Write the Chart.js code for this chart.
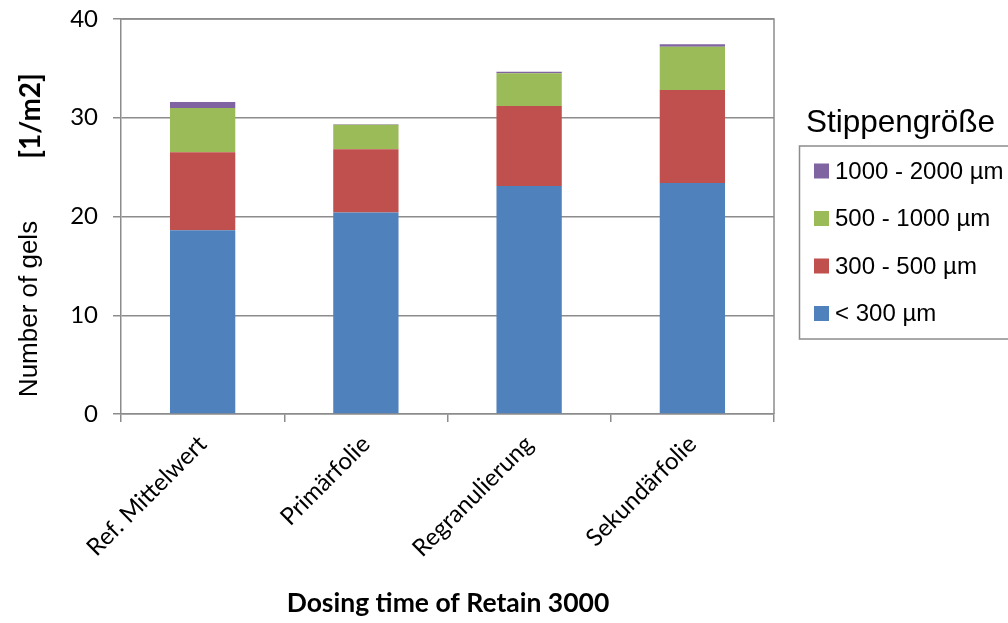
<!DOCTYPE html>
<html>
<head>
<meta charset="utf-8">
<script src="https://cdn.jsdelivr.net/npm/chart.js@4.4.1/dist/chart.umd.min.js"></script>
<style>
  html, body { margin: 0; padding: 0; background: #ffffff; }
  #wrap { width: 1008px; height: 623px; position: relative; }
</style>
</head>
<body>
<div id="wrap"><canvas id="c" width="1008" height="623"></canvas></div>
<script>
// Categories (dosing time of Retain 3000)
const categories = ['Ref. Mittelwert', 'Primärfolie', 'Regranulierung', 'Sekundärfolie'];

// Gel counts per size class [1/m2]
const under300   = [18.6, 20.4, 23.1, 23.4];
const from300    = [7.9, 6.4, 8.1, 9.4];
const from500    = [4.5, 2.5, 3.3, 4.4];
const from1000   = [0.6, 0.05, 0.15, 0.25];

const seriesLabels = ['< 300 µm', '300 - 500 µm', '500 - 1000 µm', '1000 - 2000 µm'];
const seriesColors = ['#4F81BD', '#C0504D', '#9BBB59', '#8064A2'];

const yTicks = [0, 10, 20, 30, 40];
const legendTitle = 'Stippengröße';
const yTitle = 'Number of gels';
const yUnit = '[1/m2]';
const xTitle = 'Dosing time of Retain 3000';

const axisGrey = '#8c8c8c';
const tickFont = { family: 'Lato', size: 24 };

// Frame around the plot area, axis titles and the boxed legend
const decorations = {
  id: 'decorations',
  afterDraw(chart) {
    const ctx = chart.ctx;
    const a = chart.chartArea;
    ctx.save();
    // plot frame (top and right edges)
    ctx.strokeStyle = axisGrey;
    ctx.lineWidth = 1.5;
    ctx.beginPath();
    ctx.moveTo(a.left, a.top);
    ctx.lineTo(a.right, a.top);
    ctx.lineTo(a.right, a.bottom);
    ctx.stroke();

    // y axis titles
    ctx.fillStyle = '#000';
    ctx.textAlign = 'center';
    ctx.textBaseline = 'middle';
    ctx.save();
    ctx.translate(30, 309);
    ctx.rotate(-Math.PI / 2);
    ctx.font = '26px "Liberation Sans"';
    ctx.fillText(yTitle, 0, 0);
    ctx.restore();
    ctx.save();
    ctx.translate(31, 116);
    ctx.rotate(-Math.PI / 2);
    ctx.font = 'bold 28px Lato';
    ctx.fillText(yUnit, 0, 0);
    ctx.restore();

    // x axis title
    ctx.font = 'bold 26.5px Lato';
    ctx.fillText(xTitle, 448, 603);

    // legend
    ctx.textAlign = 'left';
    ctx.textBaseline = 'alphabetic';
    ctx.font = '31.5px "Liberation Sans"';
    ctx.fillText(legendTitle, 806, 132);
    ctx.strokeStyle = axisGrey;
    ctx.lineWidth = 1.5;
    ctx.strokeRect(799.5, 146, 230, 193);
    ctx.font = '24px "Liberation Sans"';
    const ds = chart.data.datasets;
    for (let i = 0; i < ds.length; i++) {
      const d = ds[ds.length - 1 - i];
      const base = 178.5 + i * 47.5;
      ctx.fillStyle = d.backgroundColor;
      ctx.fillRect(814, base - 15, 15, 15);
      ctx.fillStyle = '#000';
      ctx.fillText(d.label, 835, base);
    }
    ctx.restore();
  }
};

const datasetValues = [under300, from300, from500, from1000];

new Chart(document.getElementById('c'), {
  type: 'bar',
  data: {
    labels: categories,
    datasets: datasetValues.map((vals, i) => ({
      label: seriesLabels[i],
      data: vals,
      backgroundColor: seriesColors[i],
      borderWidth: 0,
      barPercentage: 0.4,
      categoryPercentage: 1.0
    }))
  },
  options: {
    responsive: false,
    animation: false,
    layout: { padding: { top: 19, right: 234, left: 0, bottom: 0 } },
    plugins: { legend: { display: false }, tooltip: { enabled: false } },
    scales: {
      x: {
        stacked: true,
        afterFit(scale) {
          scale.height = 209;
          scale.paddingLeft = 0;
          scale.paddingRight = 0;
        },
        grid: {
          offset: true,
          drawOnChartArea: false,
          drawTicks: true,
          tickLength: 8,
          color: axisGrey,
          lineWidth: 1.5
        },
        border: { color: axisGrey, width: 1.5 },
        ticks: {
          maxRotation: 45,
          minRotation: 45,
          padding: 8,
          color: '#000',
          font: tickFont
        }
      },
      y: {
        stacked: true,
        min: 0,
        max: 40,
        afterFit(scale) {
          scale.width = 121;
          scale.paddingTop = 0;
          scale.paddingBottom = 0;
        },
        afterBuildTicks(scale) { scale.ticks = yTicks.map(v => ({ value: v })); },
        grid: {
          color: axisGrey,
          lineWidth: 1.5,
          tickLength: 8
        },
        border: { color: axisGrey, width: 1.5 },
        ticks: {
          padding: 15,
          color: '#000',
          font: tickFont
        }
      }
    }
  },
  plugins: [decorations]
});
</script>
</body>
</html>
